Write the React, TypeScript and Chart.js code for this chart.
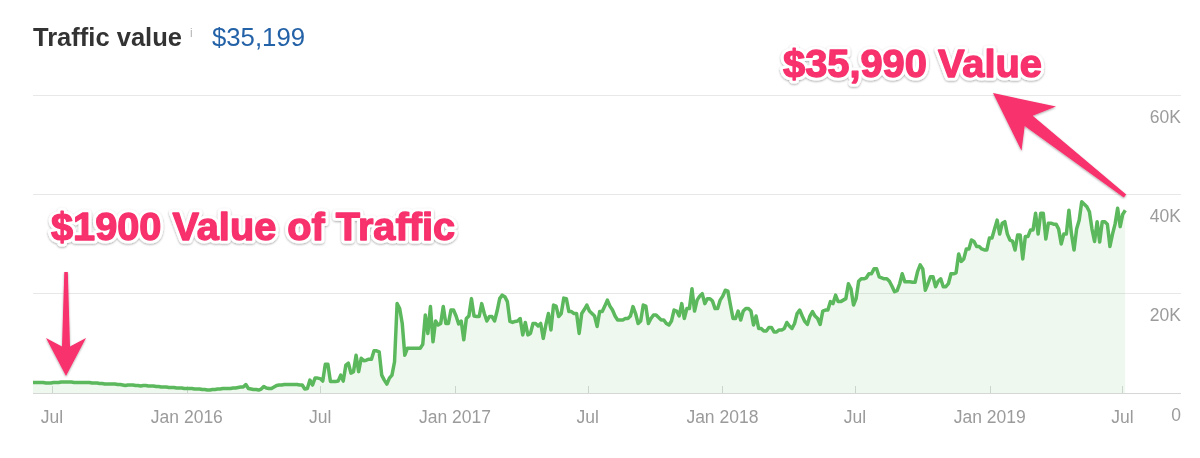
import { useEffect, useRef } from "react";
import { Chart, registerables } from "chart.js";

Chart.register(...registerables);

// Twice-weekly samples of estimated organic traffic value (thousands of USD),
// starting on START_DATE and spaced SAMPLE_STEP_DAYS apart.
const START_DATE = "2015-06-05";
const SAMPLE_STEP_DAYS = 3.5;
const AXIS_END_DATE = "2019-09-19";

const trafficValueK = [
  2.1, 2.1, 2.1, 2.1, 2.1, 2.0, 2.0, 2.0, 2.1, 2.1, 2.1, 2.2, 2.2, 2.2, 2.2, 2.2, 2.1, 2.1, 2.1, 2.1,
  2.1, 2.1, 2.1, 2.0, 2.0, 2.0, 1.9, 1.9, 1.8, 1.8, 1.8, 1.8, 1.8, 1.7, 1.7, 1.6, 1.5, 1.6, 1.6, 1.6,
  1.5, 1.5, 1.4, 1.5, 1.5, 1.4, 1.4, 1.4, 1.3, 1.3, 1.2, 1.2, 1.2, 1.1, 1.1, 1.1, 1.0, 1.0, 1.0, 0.9,
  0.9, 0.9, 0.9, 0.8, 0.8, 0.8, 0.7, 0.7, 0.6, 0.6, 0.7, 0.7, 0.8, 0.8, 0.9, 0.9, 0.9, 0.9, 1.0, 1.0,
  1.1, 1.2, 1.2, 1.7, 0.9, 0.8, 0.7, 0.7, 0.6, 0.8, 1.3, 1.0, 0.9, 0.9, 1.2, 1.5, 1.6, 1.6, 1.7, 1.7,
  1.7, 1.7, 1.7, 1.7, 1.6, 1.6, 0.8, 0.9, 2.6, 1.6, 3.0, 3.0, 2.9, 2.4, 5.8, 5.8, 2.3, 2.3, 2.3, 2.4,
  3.6, 2.4, 5.6, 6.0, 4.0, 4.3, 7.6, 4.3, 7.0, 6.5, 6.6, 6.8, 6.8, 8.5, 8.5, 8.3, 3.6, 2.6, 1.8, 3.0,
  3.6, 6.3, 18.0, 17.0, 14.0, 7.6, 9.0, 9.0, 9.0, 9.0, 9.0, 9.0, 9.8, 15.7, 12.0, 17.4, 10.3, 14.5, 13.7, 14.0,
  17.4, 14.0, 14.0, 16.7, 16.7, 15.5, 13.9, 14.5, 10.7, 15.0, 15.5, 19.0, 15.5, 15.4, 15.4, 18.0, 16.0, 14.5, 15.4, 15.4,
  14.5, 16.5, 19.0, 19.7, 19.4, 18.4, 14.4, 14.2, 14.4, 14.5, 15.0, 11.7, 14.2, 11.7, 12.0, 14.0, 14.0, 13.5, 14.0, 11.0,
  13.7, 16.0, 12.7, 17.7, 17.5, 15.4, 16.0, 19.1, 19.0, 16.4, 16.4, 16.0, 16.0, 12.0, 16.0, 16.8, 17.7, 16.5, 16.0, 15.5,
  13.4, 16.4, 16.4, 17.5, 18.7, 17.5, 16.7, 15.5, 14.7, 14.7, 14.7, 15.0, 15.0, 15.5, 17.4, 16.0, 14.0, 14.5, 17.7, 17.5,
  14.0, 15.0, 15.7, 15.7, 15.2, 14.7, 14.7, 14.0, 13.7, 14.5, 16.7, 16.5, 15.5, 18.0, 15.0, 17.0, 17.0, 21.0, 16.5, 18.7,
  19.5, 20.0, 18.0, 19.0, 19.0, 18.5, 17.0, 17.0, 18.7, 19.5, 20.7, 20.5, 17.7, 15.0, 15.0, 16.5, 14.7, 16.5, 17.0, 17.0,
  16.5, 13.7, 15.5, 13.0, 13.0, 12.5, 12.5, 13.2, 13.2, 12.3, 12.3, 12.7, 12.7, 13.0, 14.2, 13.5, 13.0, 14.0, 16.0, 16.7,
  15.5, 14.4, 13.8, 15.5, 16.4, 15.5, 15.0, 13.8, 16.5, 16.7, 16.7, 18.4, 18.0, 19.7, 18.4, 18.4, 18.7, 19.0, 22.0, 21.0,
  17.7, 19.0, 22.5, 23.0, 23.0, 23.2, 24.0, 24.0, 25.0, 25.0, 23.4, 23.2, 23.0, 23.0, 22.5, 21.5, 20.4, 20.6, 22.0, 24.0,
  22.4, 22.4, 22.4, 22.3, 22.3, 24.5, 25.8, 25.0, 20.7, 22.0, 23.4, 23.4, 21.4, 22.5, 23.0, 21.4, 21.4, 22.0, 24.0, 24.0,
  24.2, 28.0, 26.5, 27.0, 29.0, 29.0, 30.8, 30.5, 29.5, 29.5, 29.0, 28.8, 28.8, 31.2, 31.2, 33.0, 34.8, 32.0, 34.2, 34.5,
  32.0, 30.8, 30.6, 28.8, 31.8, 31.8, 27.0, 31.5, 31.5, 32.8, 32.8, 36.2, 32.0, 36.2, 36.2, 31.0, 34.2, 34.2, 34.0, 34.0,
  33.0, 30.0, 32.0, 32.0, 36.8, 32.0, 28.8, 33.0, 34.8, 38.5, 38.0, 37.5, 36.5, 33.0, 30.5, 34.5, 30.4, 34.5, 34.5, 34.0,
  29.5, 32.0, 34.0, 37.2, 33.5, 36.0, 36.8,
];

const xTickDates = [
  "2015-07-01", "2016-01-01", "2016-07-01", "2017-01-01", "2017-07-01",
  "2018-01-01", "2018-07-01", "2019-01-01", "2019-07-01",
];
const xTickLabels = ["Jul", "Jan 2016", "Jul", "Jan 2017", "Jul", "Jan 2018", "Jul", "Jan 2019", "Jul"];

const yTickValues = [0, 20000, 40000, 60000];
const yTickLabels = ["0", "20K", "40K", "60K"];

const headingLabel = "Traffic value";
const headingInfo = "i";
const headingValue = "$35,199";
const startCallout = "$1900 Value of Traffic";
const endCallout = "$35,990 Value";

const FONT = "'Liberation Sans', Arial, Helvetica, sans-serif";
const LINE_GREEN = "#5cb85c";
const CALLOUT_PINK = "#f7306c";

const DAY_MS = 86400000;
const dayIndex = (iso: string) => (Date.parse(iso) - Date.parse(START_DATE)) / DAY_MS;

// Short tick marks that rise from the baseline at every x tick.
const baselineTicks = {
  id: "baselineTicks",
  beforeDatasetsDraw(chart: any) {
    const { ctx, chartArea, scales } = chart;
    const xs = scales.x;
    ctx.save();
    ctx.strokeStyle = "#d9d9d9";
    ctx.lineWidth = 1;
    xs.ticks.forEach((t: any) => {
      const px = Math.round(xs.getPixelForValue(t.value)) + 0.5;
      ctx.beginPath();
      ctx.moveTo(px, chartArea.bottom - 7);
      ctx.lineTo(px, chartArea.bottom);
      ctx.stroke();
    });
    ctx.restore();
  },
};

type Pt = [number, number];
function arrowPoints(tail: Pt, tip: Pt, tailW: number, neckW: number, headLen: number, headHalf: number) {
  const dx = tip[0] - tail[0];
  const dy = tip[1] - tail[1];
  const len = Math.hypot(dx, dy);
  const ux = dx / len, uy = dy / len;
  const nx = -uy, ny = ux;
  const bx = tip[0] - ux * headLen, by = tip[1] - uy * headLen;
  const kx = tip[0] - ux * headLen * 0.78, ky = tip[1] - uy * headLen * 0.78;
  const pts: Pt[] = [
    [tail[0] + (nx * tailW) / 2, tail[1] + (ny * tailW) / 2],
    [kx + (nx * neckW) / 2, ky + (ny * neckW) / 2],
    [bx + nx * headHalf, by + ny * headHalf],
    tip,
    [bx - nx * headHalf, by - ny * headHalf],
    [kx - (nx * neckW) / 2, ky - (ny * neckW) / 2],
    [tail[0] - (nx * tailW) / 2, tail[1] - (ny * tailW) / 2],
  ];
  return pts.map((p) => `${p[0].toFixed(1)},${p[1].toFixed(1)}`).join(" ");
}

export default function App() {
  const canvasRef = useRef<HTMLCanvasElement>(null);

  useEffect(() => {
    const canvas = canvasRef.current;
    if (!canvas) return;
    const points = trafficValueK.map((v, i) => ({ x: i * SAMPLE_STEP_DAYS, y: v * 1000 }));
    const xTickDays = xTickDates.map(dayIndex);

    const chart = new Chart(canvas, {
      type: "line",
      data: {
        datasets: [
          {
            data: points,
            borderColor: LINE_GREEN,
            borderWidth: 3.5,
            backgroundColor: "rgba(92,184,92,0.1)",
            fill: "origin",
            pointRadius: 0,
            tension: 0,
            borderJoinStyle: "round",
          },
        ],
      },
      options: {
        responsive: false,
        devicePixelRatio: 1,
        animation: false,
        layout: { padding: { left: 33, right: 19, top: 95, bottom: 22 } },
        plugins: { legend: { display: false }, tooltip: { enabled: false } },
        scales: {
          x: {
            type: "linear",
            min: 0,
            max: dayIndex(AXIS_END_DATE),
            grid: { display: false },
            border: { display: false },
            afterBuildTicks: (axis: any) => {
              axis.ticks = xTickDays.map((v) => ({ value: v }));
            },
            ticks: {
              autoSkip: false,
              maxRotation: 0,
              padding: 7,
              color: "#9b9b9b",
              font: { family: FONT, size: 17.5 },
              callback: (_v: any, i: number) => xTickLabels[i],
            },
          },
          y: {
            position: "right",
            min: 0,
            max: 60000,
            border: { display: false },
            grid: {
              drawTicks: false,
              lineWidth: 1,
              color: (c: any) => (c.tick && c.tick.value === 0 ? "#d6d6d6" : "#e8e8e8"),
            },
            afterBuildTicks: (axis: any) => {
              axis.ticks = yTickValues.map((v) => ({ value: v }));
            },
            ticks: {
              mirror: true,
              padding: 0,
              labelOffset: 23,
              color: "#9b9b9b",
              font: { family: FONT, size: 17.5 },
              callback: (_v: any, i: number) => yTickLabels[i],
            },
          },
        },
      },
      plugins: [baselineTicks],
    });
    return () => chart.destroy();
  }, []);

  return (
    <div style={{ position: "absolute", left: 0, top: 0, width: 1200, height: 458, background: "#fff", overflow: "hidden" }}>
      <canvas ref={canvasRef} width={1200} height={458} style={{ position: "absolute", left: 0, top: 0, width: 1200, height: 458 }} />
      <svg width={1200} height={458} style={{ position: "absolute", left: 0, top: 0 }}>
        <defs>
          <filter id="calloutShadow" x="-10%" y="-30%" width="120%" height="160%">
            <feDropShadow dx="0" dy="1" stdDeviation="1.2" floodColor="#000" floodOpacity="0.35" />
          </filter>
        </defs>
        <text x={33} y={46} fontFamily={FONT} fontWeight={700} fontSize={25} fill="#333" textLength={149} lengthAdjust="spacingAndGlyphs">
          {headingLabel}
        </text>
        <text x={190} y={37} fontFamily={FONT} fontSize={12} fill="#b5b5b5">{headingInfo}</text>
        <text x={212} y={46} fontFamily={FONT} fontSize={25} fill="#2462a8" textLength={93} lengthAdjust="spacingAndGlyphs">
          {headingValue}
        </text>

        <g filter="url(#calloutShadow)">
          <polygon points={arrowPoints([66, 272], [66, 376], 3.5, 8, 38, 20)} fill={CALLOUT_PINK} />
          <polygon points={arrowPoints([1125, 196], [993, 93], 4, 13, 58, 28)} fill={CALLOUT_PINK} />
          {/* white halo drawn from the same text elements, behind the pink glyphs */}
          <use href="#startCallout" fill="#fff" stroke="#fff" strokeWidth={7} strokeLinejoin="round" />
          <use href="#endCallout" fill="#fff" stroke="#fff" strokeWidth={7} strokeLinejoin="round" />
          <g fill={CALLOUT_PINK} stroke={CALLOUT_PINK} strokeWidth={1.3} strokeLinejoin="round">
            <text id="startCallout" x={51} y={240} fontFamily={FONT} fontWeight={700} fontSize={38} textLength={404} lengthAdjust="spacingAndGlyphs">
              {startCallout}
            </text>
            <text id="endCallout" x={783} y={77} fontFamily={FONT} fontWeight={700} fontSize={38} textLength={259} lengthAdjust="spacingAndGlyphs">
              {endCallout}
            </text>
          </g>
        </g>
      </svg>
    </div>
  );
}
